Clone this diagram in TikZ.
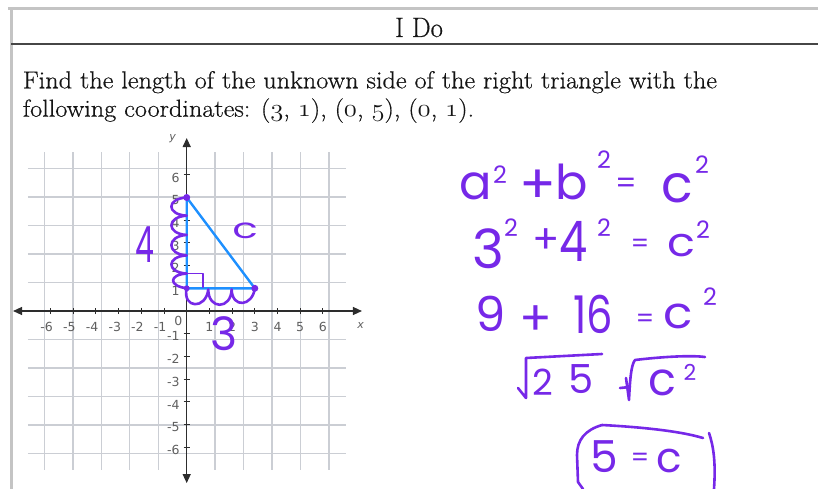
\documentclass[tikz,border=0pt]{standalone}
\usepackage{fontspec}
\newfontfamily\hand{Poppins}
\newfontfamily\lab{DejaVu Sans}
\newfontfamily\bodyf{Latin Modern Roman}[FakeBold=0.5]
\usetikzlibrary{arrows.meta}
\definecolor{pen}{RGB}{118,40,232}
\definecolor{tri}{RGB}{30,144,255}
\definecolor{gridc}{RGB}{203,206,212}
\definecolor{axisc}{RGB}{45,45,45}
\definecolor{labc}{RGB}{95,95,95}
\definecolor{frame}{RGB}{196,196,196}
\definecolor{rulec}{RGB}{70,70,70}
\definecolor{body}{RGB}{20,20,20}
\newcommand{\osn}[1]{{\usefont{OML}{cmm}{m}{it}#1}}
\newcommand{\hf}[1]{\hand\fontsize{#1}{#1}\selectfont}
\tikzset{
  hw/.style={text=pen, inner sep=0pt, font=\hf{#1}},
  penline/.style={draw=pen, line width=2.6pt, line cap=round, line join=round},
  gridline/.style={draw=gridc, line width=1.4pt},
  axisline/.style={draw=axisc, line width=1.3pt},
  ticklab/.style={text=labc, inner sep=0pt, font=\lab\fontsize{12.5}{12.5}\selectfont},
  bodytext/.style={text=body, inner sep=0pt, anchor=base west, font=\bodyf\fontsize{24.5}{28}\selectfont},
  tip/.style={-{Triangle[length=9pt,width=8pt]}}
}
\begin{document}
\begin{tikzpicture}[x=1pt,y=-1pt]
\useasboundingbox (0,0) rectangle (818,489);
% table frame
\draw[draw=frame, line width=3pt] (8,9) -- (818,9);
\draw[draw=frame, line width=3pt] (11,8) -- (11,489);
\draw[draw=rulec, line width=2pt] (11,44) -- (818,44);
\node[text=body, inner sep=0pt, anchor=base, font=\bodyf\fontsize{28}{28}\selectfont] (title) at (419,37) {\scalebox{0.95}[1]{I Do}};
\node[bodytext] (line1) at (22.7,88.3) {\scalebox{1.072}[1]{Find the length of the unknown side of the right triangle with the}};
\node[bodytext] (line2) at (22.7,116.7) {\scalebox{1.072}[1]{following coordinates: (\osn{3}, \osn{1}), (\osn{0}, \osn{5}), (\osn{0}, \osn{1}).}};

% coordinate grid
\begin{scope}[shift={(186.7,311)}, x=22.7pt, y=22.7pt]
  \draw[gridline] (-7,-7) grid (7,7);
  \coordinate (xl) at (-7.65,0);
  \coordinate (xr) at (7.72,0);
  \coordinate (yt) at (0,7.62);
  \coordinate (yb) at (0,-7.58);
  \draw[axisline, tip] (0,0) -- (xr);
  \draw[axisline, tip] (0,0) -- (xl);
  \draw[axisline, tip] (0,0) -- (yt);
  \draw[axisline, tip] (0,0) -- (yb);
  \foreach \i in {-6,...,-1,1,2,...,6} {
    \draw[draw=axisc, line width=1pt] (\i,-0.14) -- (\i,0.14);
    \draw[draw=axisc, line width=1pt] (-0.14,\i) -- (0.14,\i);
  }
  \foreach \i in {1,...,6} {
    \node[ticklab] (xp\i) at (\i,-0.7) {\i};
    \node[ticklab] (xn\i) at (-\i-0.17,-0.7) {-\i};
    \node[ticklab, anchor=east] (yp\i) at (-0.3,\i-0.12) {\i};
    \node[ticklab, anchor=east] (yn\i) at (-0.3,-\i-0.12) {-\i};
  }
  \node[ticklab] (zero) at (-0.37,-0.43) {0};
  \node[ticklab, font=\lab\itshape\fontsize{11}{11}\selectfont] (xlab) at (7.66,-0.66) {x};
  \node[ticklab, font=\lab\itshape\fontsize{11}{11}\selectfont] (ylab) at (-0.62,7.6) {y};

  % triangle
  \coordinate (A) at (0,1);
  \coordinate (B) at (0,5);
  \coordinate (C) at (3,1);
  \draw[draw=tri, line width=2.4pt, line join=round] (A) -- (B) -- (C) -- cycle;

  % handwriting marks
  \draw[penline, line width=1.8pt] (0,1.65) -- (0.72,1.65) -- (0.72,1.05);
  \draw[penline] (B) .. controls (-0.9,4.95) and (-0.9,4.25) .. (0,4.2)
                     .. controls (-0.9,4.15) and (-0.9,3.4) .. (0,3.35)
                     .. controls (-0.9,3.3) and (-0.9,2.5) .. (0,2.45)
                     .. controls (-0.9,2.4) and (-0.9,1.7) .. (0,1.65)
                     .. controls (-0.8,1.6) and (-0.8,1.1) .. (A);
  \draw[penline] (A) .. controls (-0.2,0.1) and (0.85,0.05) .. (0.95,0.95)
                     .. controls (0.95,0.05) and (1.95,0.05) .. (1.98,0.95)
                     .. controls (2.0,0.1) and (2.9,0.2) .. (C);
  \fill[pen] (A) circle (3pt);
  \fill[pen] (B) circle (3.5pt);
  \fill[pen] (C) circle (3.5pt);
\end{scope}
\node[hw=50] (four) at (145,245) {\scalebox{0.6}[1]{4}};
\node[hw=28] (cside) at (245,231) {\scalebox{1.5}[1]{c}};
\node[hw=46] (three) at (224,334) {3};

% equations
\node[hw=48] (e1a) at (476,186) {a};
\node[hw=24] (e1s1) at (500,175) {2};
\node[hw=54] (e1p) at (538,187) {+};
\node[hw=48] (e1b) at (572,182) {b};
\node[hw=24] (e1s2) at (604,160) {2};
\node[hw=30] (e1e) at (626,186) {=};
\node[hw=52] (e1c) at (677,188) {c};
\node[hw=24] (e1s3) at (702,165) {2};

\node[hw=54] (e2a) at (488,249) {3};
\node[hw=24] (e2s1) at (511,228) {2};
\node[hw=40] (e2p) at (546,241) {+};
\node[hw=56] (e2b) at (574,241) {\scalebox{0.8}[1]{4}};
\node[hw=24] (e2s2) at (604,228) {2};
\node[hw=26] (e2e) at (640,246) {=};
\node[hw=40] (e2c) at (681,246) {\scalebox{1.15}[1]{c}};
\node[hw=24] (e2s3) at (703,230) {2};

\node[hw=48] (e3a) at (491,314) {9};
\node[hw=48] (e3p) at (536,321) {+};
\node[hw=52] (e3b) at (593,314) {\scalebox{0.8}[1]{16}};
\node[hw=26] (e3e) at (645,321) {=};
\node[hw=44] (e3c) at (678,316) {\scalebox{1.1}[1]{c}};
\node[hw=24] (e3s) at (710,297) {2};

\draw[penline] (518,388) -- (526,398) -- (526,358) -- (602,354);
\node[hw=36] (e4a) at (543,382) {2};
\node[hw=40] (e4b) at (581,379) {5};
\draw[penline] (620,388) -- (630,387);
\draw[penline] (626,378) -- (629,400) .. controls (630,380) and (631,365) .. (635,360) .. controls (660,357) and (690,355) .. (705,357);
\node[hw=46] (e4c) at (662,383) {c};
\node[hw=22] (e4s) at (690,372) {2};

\draw[penline] (602,425) .. controls (585,430) and (577,440) .. (577,455) -- (578,482) -- (583,489);
\draw[penline] (602,425) .. controls (640,427) and (680,431) .. (703,438);
\draw[penline] (709,433) .. controls (713,445) and (716,460) .. (714,489);
\node[hw=44] (e5a) at (604,457) {5};
\node[hw=26] (e5e) at (640,460) {=};
\node[hw=42] (e5c) at (669,461) {c};
\end{tikzpicture}
\end{document}
